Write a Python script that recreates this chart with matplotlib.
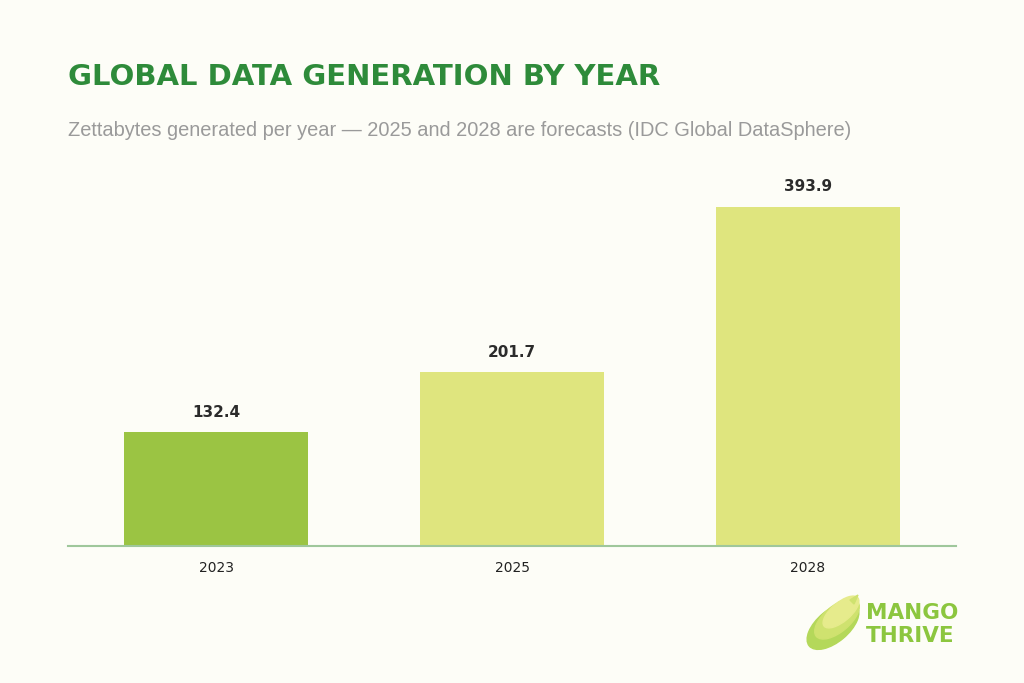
import numpy as np
import matplotlib.pyplot as plt
from matplotlib.patches import Ellipse, Polygon

# data
years = ["2023", "2025", "2028"]
zettabytes = [132.4, 201.7, 393.9]
bar_colors = ["#9bc443", "#dfe57e", "#dfe57e"]

bg = "#fdfdf7"
W, H = 1024, 683

fig = plt.figure(figsize=(W / 100, H / 100), dpi=100, facecolor=bg)

# axes placed in pixel terms: x 68..956, baseline at y=546
ax_left, ax_right = 68, 956
ax_bottom, ax_top = 546, 170
ax = fig.add_axes([ax_left / W, 1 - ax_bottom / H,
                   (ax_right - ax_left) / W, (ax_bottom - ax_top) / H])
ax.set_facecolor(bg)

x = np.arange(len(years))
bars = ax.bar(x, zettabytes, width=0.62, color=bar_colors, zorder=2)
ax.set_xlim(-0.5, 2.5)
ax.set_ylim(0, (ax_bottom - ax_top) / 0.861)

for b, v in zip(bars, zettabytes):
    ax.annotate(f"{v:.1f}", (b.get_x() + b.get_width() / 2, v),
                xytext=(0, 9), textcoords="offset points",
                ha="center", va="bottom", fontsize=11, fontweight="bold",
                color="#2b2b2b")

ax.set_xticks(x)
ax.set_xticklabels(years, fontsize=10, color="#222222")
ax.tick_params(axis="x", length=0, pad=11)
ax.set_yticks([])
for s in ["top", "right", "left"]:
    ax.spines[s].set_visible(False)
ax.spines["bottom"].set_color("#9fc79b")
ax.spines["bottom"].set_linewidth(1.5)

# title and subtitle
fig.text(68 / W, 1 - 77 / H, "GLOBAL DATA GENERATION BY YEAR",
         fontsize=21, fontweight="heavy", color="#2e8b3a",
         ha="left", va="center", family="DejaVu Sans")
fig.text(68 / W, 1 - 131 / H,
         "Zettabytes generated per year \u2014 2025 and 2028 are forecasts (IDC Global DataSphere)",
         fontsize=14.4, color="#9a9a9a", ha="left", va="center",
         family="Liberation Sans")

# logo: simple mango shape plus text
lax = fig.add_axes([0, 0, 1, 1], facecolor="none")
lax.set_xlim(0, W)
lax.set_ylim(H, 0)
lax.axis("off")
lax.add_patch(Ellipse((833, 626), 62, 32, angle=-40, color="#b4d85a"))
lax.add_patch(Ellipse((837, 619), 54, 26, angle=-40, color="#cfe26f"))
lax.add_patch(Ellipse((841, 612), 44, 19, angle=-40, color="#e6eb8c"))
lax.add_patch(Polygon([[850, 600], [858, 595], [854, 604]], color="#cfe26f"))
lax.text(866, 613, "MANGO", fontsize=15.5, fontweight="heavy", color="#8cc63f",
         ha="left", va="center", family="DejaVu Sans")
lax.text(866, 636, "THRIVE", fontsize=15.5, fontweight="heavy", color="#8cc63f",
         ha="left", va="center", family="DejaVu Sans")

fig.savefig("out.png", dpi=100, facecolor=bg)
